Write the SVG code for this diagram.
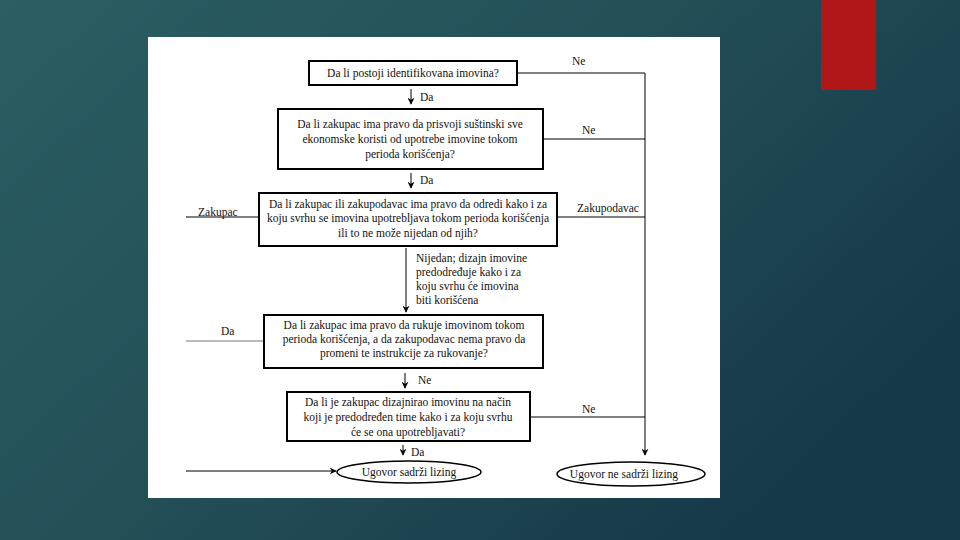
<svg xmlns="http://www.w3.org/2000/svg" width="960" height="540" viewBox="0 0 960 540" font-family="Liberation Serif, Times New Roman, serif">
<defs>
<linearGradient id="bg" x1="0" y1="0" x2="1" y2="0.6">
<stop offset="0" stop-color="#2c5e64"/>
<stop offset="0.5" stop-color="#245058"/>
<stop offset="1" stop-color="#153949"/>
</linearGradient>
<marker id="ah" viewBox="0 0 10 10" refX="9" refY="5" markerWidth="7" markerHeight="7" orient="auto" markerUnits="userSpaceOnUse">
<path d="M0,0 L10,5 L0,10 L3,5 z" fill="#000"/>
</marker>
<style>
.box{fill:#fff;stroke:#000;stroke-width:2}
.ell{fill:#fff;stroke:#000;stroke-width:1.5}
.ln{fill:none;stroke:#000;stroke-width:1}
.lg{fill:none;stroke:#777;stroke-width:1}
.t{font-family:'Liberation Serif','Times New Roman',serif;font-size:11.5px;fill:#111}
.c{text-anchor:middle}
</style>
</defs>
<rect width="960" height="540" fill="url(#bg)"/>
<rect x="821" y="0" width="55" height="90" fill="#b01817"/>
<rect x="148" y="37" width="572" height="461" fill="#fff"/>

<g id="connectors">
<polyline class="ln" points="517,73 645,73 645,455" marker-end="url(#ah)"/>
<line class="ln" x1="543" y1="139" x2="645" y2="139"/>
<line class="ln" x1="557" y1="217" x2="645" y2="217"/>
<line class="ln" x1="530" y1="417" x2="645" y2="417"/>
<line class="ln" x1="186" y1="217" x2="259" y2="217"/>
<line class="lg" x1="186" y1="341" x2="264" y2="341"/>
<line class="ln" x1="186" y1="471" x2="336" y2="471" marker-end="url(#ah)"/>
<line class="ln" x1="411" y1="89" x2="411" y2="104" stroke-width="1.5" marker-end="url(#ah)"/>
<line class="ln" x1="411" y1="173" x2="411" y2="188" stroke-width="1.5" marker-end="url(#ah)"/>
<line class="ln" x1="406" y1="248" x2="406" y2="312" marker-end="url(#ah)"/>
<line class="ln" x1="405" y1="373" x2="405" y2="388" stroke-width="1.5" marker-end="url(#ah)"/>
<line class="ln" x1="403" y1="445" x2="403" y2="455" stroke-width="1.5" marker-end="url(#ah)"/>
<text class="t" x="572" y="65">Ne</text>
<text class="t" x="582" y="134">Ne</text>
<text class="t" x="577" y="212">Zakupodavac</text>
<text class="t" x="582" y="413">Ne</text>
<text class="t" x="198" y="216">Zakupac</text>
<text class="t" x="221" y="335">Da</text>
<text class="t" x="420" y="101">Da</text>
<text class="t" x="420" y="184">Da</text>
<text class="t" x="416" y="262">Nijedan; dizajn imovine</text>
<text class="t" x="416" y="276">predodređuje kako i za</text>
<text class="t" x="416" y="290">koju svrhu će imovina</text>
<text class="t" x="416" y="304">biti korišćena</text>
<text class="t" x="418" y="384">Ne</text>
<text class="t" x="411" y="456">Da</text>
</g>

<g id="n1">
<rect class="box" x="309" y="61" width="208" height="24"/>
<text class="t c" x="413" y="77">Da li postoji identifikovana imovina?</text>
</g>
<g id="n2">
<rect class="box" x="278" y="109" width="265" height="60"/>
<text class="t c" x="410" y="128">Da li zakupac ima pravo da prisvoji  suštinski sve</text>
<text class="t c" x="410" y="143">ekonomske koristi od upotrebe imovine tokom</text>
<text class="t c" x="410" y="158">perioda korišćenja?</text>
</g>
<g id="n3">
<rect class="box" x="259" y="193" width="298" height="53"/>
<text class="t c" x="408" y="208">Da li zakupac ili zakupodavac ima pravo da odredi kako i za</text>
<text class="t c" x="408" y="222">koju svrhu se imovina upotrebljava tokom perioda korišćenja</text>
<text class="t c" x="408" y="237">ili to ne može nijedan od njih?</text>
</g>
<g id="n4">
<rect class="box" x="264" y="315" width="279" height="53"/>
<text class="t c" x="404" y="329">Da li zakupac ima pravo da rukuje imovinom tokom</text>
<text class="t c" x="404" y="343">perioda korišćenja,  a da zakupodavac nema pravo da</text>
<text class="t c" x="404" y="357">promeni te instrukcije  za rukovanje?</text>
</g>
<g id="n5">
<rect class="box" x="287" y="392" width="243" height="49"/>
<text class="t c" x="408" y="406">Da li je zakupac dizajnirao imovinu na način</text>
<text class="t c" x="408" y="421">koji je predodređen time kako i za koju svrhu</text>
<text class="t c" x="408" y="436">će se ona upotrebljavati?</text>
</g>
<g id="n6">
<ellipse class="ell" cx="409" cy="472" rx="72" ry="11"/>
<text class="t c" x="409" y="476">Ugovor sadrži lizing</text>
</g>
<g id="n7">
<ellipse class="ell" cx="631" cy="474" rx="74" ry="12"/>
<text class="t c" x="624" y="478">Ugovor ne sadrži lizing</text>
</g>
</svg>
